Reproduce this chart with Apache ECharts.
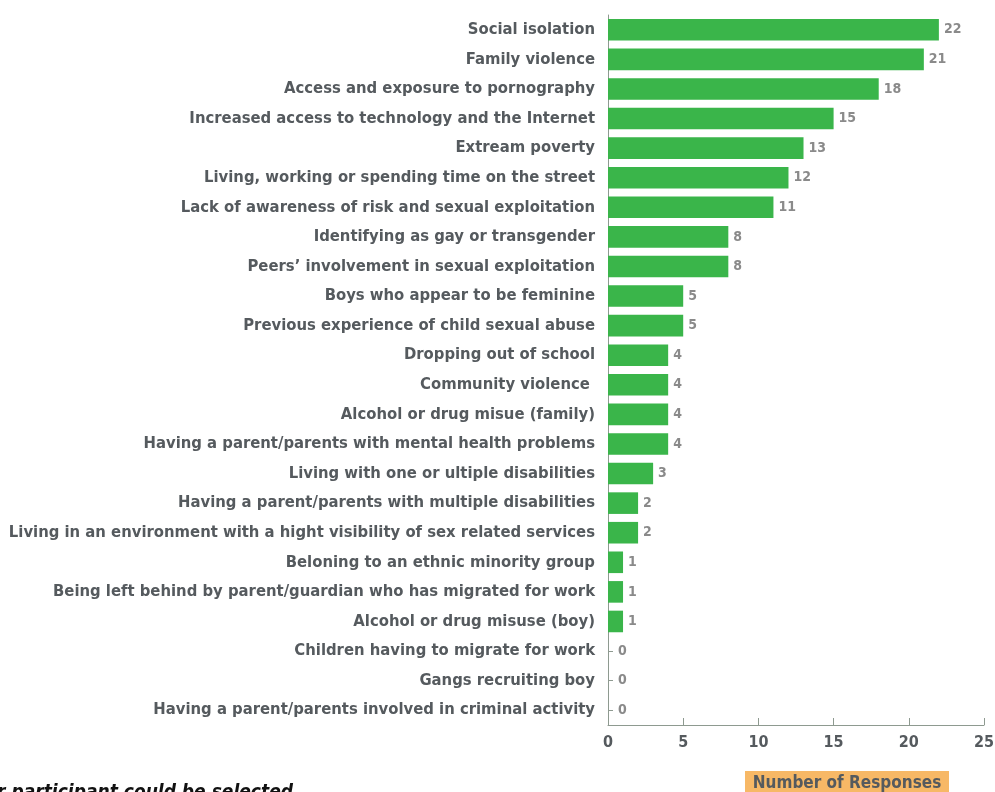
<!DOCTYPE html>
<html>
<head>
<meta charset="utf-8">
<script src="https://cdn.jsdelivr.net/npm/echarts@6/dist/echarts.min.js"></script>
<style>
  html, body { margin: 0; padding: 0; background: #fff; }
  #chart { width: 995px; height: 792px; }
</style>
</head>
<body>
<div id="chart"></div>
<script>
// Risk factors, listed top to bottom
const categories = [
  "Social isolation",
  "Family violence",
  "Access and exposure to pornography",
  "Increased access to technology and the Internet",
  "Extream poverty",
  "Living, working or spending time on the street",
  "Lack of awareness of risk and sexual exploitation",
  "Identifying as gay or transgender",
  "Peers\u2019 involvement in sexual exploitation",
  "Boys who appear to be feminine",
  "Previous experience of child sexual abuse",
  "Dropping out of school",
  "Community violence ",
  "Alcohol or drug misue (family)",
  "Having a parent/parents with mental health problems",
  "Living with one or ultiple disabilities",
  "Having a parent/parents with multiple disabilities",
  "Living in an environment with a hight visibility of sex related services",
  "Beloning to an ethnic minority group",
  "Being left behind by parent/guardian who has migrated for work",
  "Alcohol or drug misuse (boy)",
  "Children having to migrate for work",
  "Gangs recruiting boy",
  "Having a parent/parents involved in criminal activity"
];
const responses = [22, 21, 18, 15, 13, 12, 11, 8, 8, 5, 5, 4, 4, 4, 4, 3, 2, 2, 1, 1, 1, 0, 0, 0];
const xTicks = { min: 0, max: 25, interval: 5 };
const axisTitle = "Number of Responses";
const footnote = "*More than one response per participant could be selected";

const FONT = '"DejaVu Sans Condensed", "Liberation Sans Narrow", sans-serif';
const chart = echarts.init(document.getElementById('chart'), null, { renderer: 'canvas' });

chart.setOption({
  animation: false,
  backgroundColor: '#ffffff',
  grid: {
    left: 608, right: 11, top: 15, bottom: 67,
    containLabel: false, outerBoundsMode: 'none'
  },
  xAxis: {
    type: 'value',
    min: xTicks.min, max: xTicks.max, interval: xTicks.interval,
    axisLine: { show: true, lineStyle: { color: '#8e9a90', width: 1 } },
    axisTick: { show: true, inside: true, length: 7, lineStyle: { color: '#8e9a90' } },
    splitLine: { show: false },
    axisLabel: {
      color: '#555a5e', fontFamily: FONT, fontWeight: 'bold', fontSize: 16, margin: 10
    }
  },
  yAxis: {
    type: 'category',
    data: categories,
    inverse: true,
    axisLine: { show: true, lineStyle: { color: '#8e9a90', width: 1 } },
    axisTick: { show: true, inside: true, alignWithLabel: true, length: 5, lineStyle: { color: '#8e9a90' } },
    axisLabel: {
      color: '#555a5e', fontFamily: FONT, fontWeight: 'bold', fontSize: 16.5, margin: 13
    }
  },
  series: [{
    type: 'bar',
    data: responses,
    barCategoryGap: '27%',
    itemStyle: { color: '#3ab54a' },
    z: 3,
    label: {
      show: true, position: 'right', distance: 5,
      color: '#8a8a8a', fontFamily: FONT, fontWeight: 'bold', fontSize: 14,
      // empty bars get a little extra room so the value clears the axis tick
      formatter: p => p.value === 0 ? '{z|0}' : String(p.value),
      rich: {
        z: {
          color: '#8a8a8a', fontFamily: FONT, fontWeight: 'bold', fontSize: 14,
          padding: [0, 0, 0, 5]
        }
      }
    }
  }],
  graphic: [
    {
      type: 'rect',
      shape: { x: 745, y: 771, width: 204, height: 30 },
      style: { fill: '#f7b866' },
      silent: true
    },
    {
      type: 'text',
      x: 847, y: 775,
      style: {
        text: axisTitle, align: 'center', verticalAlign: 'top',
        fill: '#555a5e', font: 'bold 17px ' + FONT
      },
      silent: true
    },
    {
      type: 'text',
      x: 293, y: 784,
      style: {
        text: footnote, align: 'right', verticalAlign: 'top',
        fill: '#111111', font: 'italic bold 19px ' + FONT
      },
      silent: true
    }
  ]
});
</script>
</body>
</html>
